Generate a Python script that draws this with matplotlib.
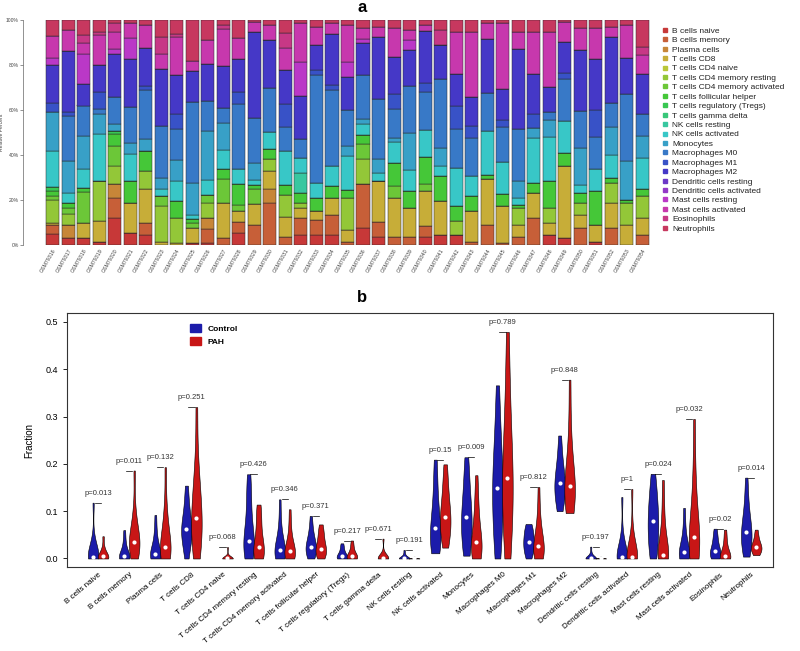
import colorsys
import numpy as np
import matplotlib
matplotlib.use("Agg")
import matplotlib.pyplot as plt
from matplotlib.patches import Patch
from matplotlib.lines import Line2D

plt.rcParams['font.family'] = ['Liberation Sans', 'DejaVu Sans']

cell_types = ["B cells naive", "B cells memory", "Plasma cells", "T cells CD8",
              "T cells CD4 naive", "T cells CD4 memory resting",
              "T cells CD4 memory activated", "T cells follicular helper",
              "T cells regulatory (Tregs)", "T cells gamma delta", "NK cells resting",
              "NK cells activated", "Monocytes", "Macrophages M0", "Macrophages M1",
              "Macrophages M2", "Dendritic cells resting", "Dendritic cells activated",
              "Mast cells resting", "Mast cells activated", "Eosinophils", "Neutrophils"]

samples = ["GSM79316", "GSM79317", "GSM79318", "GSM79319", "GSM79320", "GSM79321",
           "GSM79322", "GSM79323", "GSM79324", "GSM79325", "GSM79326", "GSM79327",
           "GSM79328", "GSM79329", "GSM79330", "GSM79331", "GSM79332", "GSM79333",
           "GSM79334", "GSM79335", "GSM79336", "GSM79337", "GSM79338", "GSM79339",
           "GSM79340", "GSM79341", "GSM79342", "GSM79343", "GSM79344", "GSM79345",
           "GSM79346", "GSM79347", "GSM79348", "GSM79349", "GSM79350", "GSM79351",
           "GSM79352", "GSM79353", "GSM79354"]

# panel a: estimated percent of each cell type per sample
b_naive = [5, 3, 3, 1.5, 12, 5.2, 4.5, 0, 0, 1, 1, 0, 5.2, 0, 0, 0, 4.5, 4.5, 4.5, 0,
           7.5, 3.7, 0, 0, 3.7, 4.5, 4.5, 0, 0, 0, 0, 0, 4.5, 3, 0, 1.5, 0, 0, 0]
b_memory = [4, 0, 0, 0, 9, 0, 5, 0, 0, 0, 6, 3, 5.2, 9, 18.7, 3.7, 7.5, 6.7, 9, 1.5,
            19.4, 6.7, 3.7, 3.7, 4.5, 0, 0, 1.5, 9, 1, 3.7, 12, 0, 0, 7.5, 0, 7.5, 0, 4.5]
plasma = [0, 6, 0, 0, 6, 0, 0, 0, 0, 0, 5, 0, 0, 0, 6, 0, 0, 0, 0, 0,
          0, 0, 0, 0, 0, 0, 0, 0, 0, 0, 0, 0, 0, 0, 0, 0, 0, 0, 0]
cd8 = [1, 0, 6.7, 9, 0, 13.4, 15, 1.5, 1, 6.7, 0, 15.7, 4.5, 9, 8.2, 9, 4.5, 3.7, 7.5, 5.2,
       0, 18, 17, 12.7, 15.7, 15, 0, 13.4, 20, 16.4, 5.2, 11, 5.2, 32, 6, 7.5, 11, 9, 7.5]
cd4_naive = [0, 0, 0, 0, 0, 0, 0, 0, 0, 0, 0, 0, 0, 0, 0, 0, 0, 0, 0, 0,
             0, 0, 0, 0, 0, 0, 0, 0, 0, 0, 0, 0, 0, 0, 0, 0, 0, 0, 0]
cd4_mem_rest = [10, 4.5, 0, 18, 8, 0, 8, 15.7, 11, 0, 6.7, 0, 0, 0, 5.2, 9.7, 2, 0, 0, 14,
                11, 0, 0, 0, 0, 0, 6, 0, 0, 0, 7.5, 0, 6.7, 0, 5.2, 0, 9, 9.7, 9.7]
cd4_mem_act = [2, 3, 14, 0, 9, 0, 0, 4.5, 0, 2, 3.7, 10.5, 3, 6.7, 0, 0, 0, 0, 0, 0,
               6.7, 0, 5.2, 0, 3, 0, 0, 0, 0, 0, 0, 0, 0, 0, 0, 0, 0, 0, 0]
tfh = [2, 2, 1.7, 0, 5, 9.7, 9, 0, 7.5, 1.7, 0, 4.5, 9, 2, 4.5, 4.5, 4.5, 6, 5.2, 3.7,
       3.7, 0, 10.5, 7.5, 12, 11, 6.7, 6.7, 2, 5.2, 1.5, 4.5, 12, 6, 4.5, 15, 2, 1.5, 3]
tregs = [2, 0, 0, 0, 1.5, 0, 0, 0, 0, 0, 0, 0, 0, 0, 0, 0, 0, 0, 0, 0,
         0, 0, 0, 0, 0, 0, 0, 0, 0, 0, 0, 0, 0, 0, 0, 0, 0, 0, 0]
gamma_delta = [0, 0, 0, 0, 0, 0, 0, 0, 0, 0, 0, 0, 0, 0, 0, 0, 0, 0, 0, 0,
               0, 0, 0, 0, 0, 0, 0, 0, 0, 0, 0, 0, 0, 0, 0, 0, 0, 0, 0]
nk_resting = [0, 0, 0, 0, 0, 0, 0, 0, 0, 0, 0, 0, 0, 0, 0, 0, 9, 0, 0, 0,
              0, 0, 0, 0, 0, 0, 0, 0, 0, 0, 0, 0, 0, 0, 0, 0, 0, 0, 0]
nk_activated = [16, 4.5, 8.2, 21, 0, 12, 0, 3, 9, 2, 6.7, 8.2, 6.7, 2, 7.5, 15, 6.7, 6.7, 9, 15,
                5.2, 3.7, 9, 9.7, 12, 4.5, 17, 9, 19.4, 14, 3, 20, 19.4, 14, 3.7, 9.7, 10.5, 0, 14]
monocytes = [17, 14, 15, 9, 3, 5, 5, 5, 9, 14, 21.6, 12, 0, 7.5, 0, 0, 0, 0, 0, 4.5,
             2, 6, 2, 16.4, 0, 8.2, 0, 0, 0, 0, 7.5, 4.5, 7.5, 0, 16.4, 0, 12, 17, 9.7]
m0 = [0, 20, 13.4, 2, 12, 15.7, 21.6, 23, 14, 36, 13.4, 6.7, 29, 20, 19.4, 10.5, 8.2, 48, 33.6, 15.7,
      19.4, 27, 12.7, 21, 17, 30.6, 17, 17, 17, 15.7, 23, 0, 3.7, 18.7, 16.4, 14, 11, 30, 9.7]
m1 = [4, 2, 0, 7.5, 0, 0, 2, 0, 6.7, 0, 0, 0, 5.2, 0, 0, 10.5, 0, 2, 2, 0,
      0, 0, 6.7, 0, 3.7, 0, 10.5, 5.2, 0, 3, 0, 6, 0, 3, 0, 12, 0, 0, 0]
m2 = [17, 27, 9.7, 12, 19, 21.6, 16.4, 25, 17, 14, 16.4, 18.7, 15, 38, 21.6, 15, 19.4, 11, 23, 15,
      14, 27.6, 16.4, 15.7, 23, 15, 14, 12.7, 24, 14, 35.8, 18, 11, 13.4, 27, 23, 29, 15.7, 18]
dc_resting = [0, 0, 0, 0, 0, 0, 0, 0, 0, 0, 0, 0, 0, 0, 0, 0, 0, 0, 0, 0,
              0, 0, 0, 0, 0, 0, 0, 0, 0, 0, 0, 0, 0, 0, 0, 0, 0, 0, 0]
dc_activated = [0, 0, 0, 0, 0, 0, 0, 0, 0, 0, 0, 0, 0, 0, 0, 0, 0, 0, 0, 0,
                0, 0, 0, 0, 0, 0, 0, 0, 0, 0, 0, 0, 0, 0, 0, 0, 0, 0, 0]
mast_resting = [3, 0, 13.4, 0, 2, 9, 0, 0, 0, 0, 0, 0, 0, 0, 0, 0, 15, 0, 0, 6.7,
                2, 0, 0, 4.5, 0, 0, 0, 0, 0, 0, 0, 0, 0, 0, 0, 0, 0, 0, 0]
mast_activated = [10, 9, 4.5, 13.4, 7.5, 6.7, 10.5, 6.7, 17, 4.5, 10.5, 16.4, 9, 4.5, 6.7, 9.7, 17, 8.2, 4.5, 16.4,
                  4.5, 4.5, 12.7, 4.5, 3, 0, 18.7, 29, 6.7, 29, 7.5, 18.7, 24.6, 9, 9.7, 13.4, 4.5, 15, 8.2]
eosinophils = [0, 0, 3.7, 1.5, 4, 0, 0, 7.5, 1.5, 0, 0, 2, 0, 0, 0, 6.7, 0, 0, 0, 0,
               0, 0, 0, 0, 0, 6.7, 0, 0, 0, 0, 0, 0, 0, 0, 0, 0, 0, 0, 3.7]
neutrophils = [7, 4.5, 6.7, 5.2, 1.5, 1.5, 2, 7.5, 6, 18, 9, 2, 8.2, 1, 2, 6, 1.5, 3, 1.5, 2,
               3.7, 3, 3.7, 4.5, 2, 4.5, 5.2, 5.2, 1.5, 1.5, 5.2, 5.2, 5.2, 1, 3.7, 3.7, 3, 2, 12]

bar_series = [b_naive, b_memory, plasma, cd8, cd4_naive, cd4_mem_rest, cd4_mem_act, tfh,
              tregs, gamma_delta, nk_resting, nk_activated, monocytes, m0, m1, m2,
              dc_resting, dc_activated, mast_resting, mast_activated, eosinophils, neutrophils]

# panel b: estimated fraction samples per cell type (Control / PAH)
control_vals = [
    [0, 0, 0, 0, 0, 0.004, 0.008, 0.015, 0.025, 0.04, 0.118],
    [0, 0, 0, 0, 0, 0.005, 0.01, 0.015, 0.025, 0.04, 0.06],
    [0, 0, 0, 0.005, 0.008, 0.01, 0.015, 0.025, 0.04, 0.06, 0.092],
    [0, 0.02, 0.04, 0.05, 0.055, 0.062, 0.07, 0.08, 0.1, 0.125, 0.154],
    [0, 0, 0, 0, 0, 0, 0, 0, 0, 0, 0],
    [0, 0.01, 0.02, 0.03, 0.033, 0.036, 0.06, 0.09, 0.12, 0.15, 0.178],
    [0, 0, 0.005, 0.01, 0.015, 0.017, 0.025, 0.035, 0.05, 0.08, 0.125],
    [0, 0.005, 0.012, 0.018, 0.022, 0.025, 0.03, 0.04, 0.05, 0.065, 0.09],
    [0, 0, 0, 0, 0.004, 0.006, 0.008, 0.012, 0.018, 0.025, 0.032],
    [0, 0, 0, 0, 0, 0, 0, 0, 0, 0, 0],
    [0, 0, 0, 0, 0, 0, 0, 0.002, 0.005, 0.01, 0.018],
    [0.011, 0.02, 0.03, 0.04, 0.05, 0.064, 0.08, 0.1, 0.13, 0.17, 0.209],
    [0.006, 0.02, 0.04, 0.06, 0.075, 0.087, 0.1, 0.12, 0.15, 0.18, 0.214],
    [0, 0.03, 0.07, 0.1, 0.13, 0.15, 0.17, 0.2, 0.24, 0.29, 0.366],
    [0, 0.008, 0.016, 0.024, 0.03, 0.035, 0.042, 0.05, 0.058, 0.066, 0.073],
    [0.1, 0.115, 0.13, 0.14, 0.15, 0.16, 0.17, 0.18, 0.2, 0.225, 0.26],
    [0, 0, 0, 0, 0, 0, 0, 0.002, 0.005, 0.012, 0.025],
    [0, 0, 0, 0, 0, 0.003, 0.006, 0.012, 0.025, 0.05, 0.13],
    [0, 0.01, 0.03, 0.05, 0.065, 0.079, 0.09, 0.11, 0.13, 0.15, 0.179],
    [0, 0, 0.002, 0.006, 0.01, 0.013, 0.02, 0.03, 0.045, 0.07, 0.107],
    [0, 0, 0.005, 0.01, 0.013, 0.016, 0.02, 0.03, 0.04, 0.05, 0.063],
    [0.004, 0.015, 0.03, 0.04, 0.05, 0.055, 0.065, 0.08, 0.1, 0.13, 0.171],
]
pah_vals = [
    [0, 0, 0, 0, 0, 0.005, 0.006, 0.01, 0.015, 0.025, 0.047],
    [0, 0.01, 0.02, 0.028, 0.032, 0.034, 0.04, 0.05, 0.07, 0.1, 0.186],
    [0, 0.005, 0.01, 0.015, 0.02, 0.025, 0.035, 0.05, 0.08, 0.11, 0.193],
    [0, 0.02, 0.04, 0.06, 0.075, 0.085, 0.1, 0.13, 0.16, 0.2, 0.32],
    [0, 0, 0, 0, 0, 0, 0, 0, 0, 0.005, 0.024],
    [0, 0, 0.01, 0.015, 0.02, 0.024, 0.04, 0.06, 0.08, 0.1, 0.114],
    [0, 0, 0.005, 0.01, 0.013, 0.015, 0.02, 0.03, 0.045, 0.07, 0.104],
    [0, 0.005, 0.01, 0.015, 0.02, 0.021, 0.03, 0.04, 0.05, 0.06, 0.072],
    [0, 0, 0, 0, 0.004, 0.006, 0.008, 0.012, 0.02, 0.028, 0.038],
    [0, 0, 0, 0, 0, 0, 0, 0.002, 0.005, 0.012, 0.042],
    [0, 0, 0, 0, 0, 0, 0, 0, 0, 0.001, 0.004],
    [0.023, 0.04, 0.055, 0.07, 0.08, 0.087, 0.1, 0.12, 0.14, 0.17, 0.199],
    [0, 0.005, 0.01, 0.02, 0.028, 0.035, 0.05, 0.07, 0.1, 0.13, 0.176],
    [0, 0.04, 0.08, 0.12, 0.15, 0.17, 0.2, 0.24, 0.3, 0.37, 0.479],
    [0, 0.005, 0.01, 0.015, 0.02, 0.027, 0.035, 0.05, 0.07, 0.1, 0.151],
    [0.096, 0.11, 0.125, 0.135, 0.145, 0.154, 0.165, 0.185, 0.22, 0.28, 0.378],
    [0, 0, 0, 0, 0, 0, 0, 0, 0, 0.001, 0.004],
    [0, 0, 0, 0, 0, 0.004, 0.008, 0.015, 0.03, 0.06, 0.147],
    [0, 0, 0, 0.002, 0.005, 0.008, 0.02, 0.04, 0.07, 0.11, 0.166],
    [0, 0.005, 0.015, 0.025, 0.035, 0.045, 0.06, 0.09, 0.13, 0.19, 0.295],
    [0, 0, 0, 0, 0.003, 0.005, 0.01, 0.02, 0.03, 0.045, 0.061],
    [0.007, 0.012, 0.016, 0.02, 0.022, 0.024, 0.028, 0.033, 0.04, 0.05, 0.061],
]
p_values = ["0.013", "0.011", "0.132", "0.251", "0.068", "0.426", "0.346", "0.371",
            "0.217", "0.671", "0.191", "0.15", "0.009", "0.789", "0.812", "0.848",
            "0.197", "1", "0.024", "0.032", "0.02", "0.014"]

fig = plt.figure(figsize=(8, 6.51), dpi=100)

# ---- panel a: stacked bars ----
ax1 = fig.add_axes([45/800, 1-245/651, 605/800, 225/651])
for s in ['top', 'right', 'bottom']:
    ax1.spines[s].set_visible(False)
ax1.spines['left'].set_position(('outward', 16))
ax1.spines['left'].set_linewidth(0.5)
ax1.spines['left'].set_color('#666666')

colors = [colorsys.hsv_to_rgb(i/22, 0.72, 0.78) for i in range(22)]
x = np.arange(len(samples))
totals = np.sum(np.array(bar_series, dtype=float), axis=0)
bottom = np.zeros(len(samples))
for vals, col in zip(bar_series, colors):
    pct = np.array(vals, dtype=float) / totals * 100
    ax1.bar(x, pct, 0.84, bottom=bottom, color=col, edgecolor='#2a2a2a', linewidth=0.35)
    bottom += pct
ax1.set_xlim(-0.5, len(samples) - 0.5)
ax1.set_ylim(0, 100)
ax1.set_yticks([0, 20, 40, 60, 80, 100])
ax1.set_yticklabels(["0%", "20%", "40%", "60%", "80%", "100%"])
ax1.set_ylabel("Relative Percent", fontsize=3.6, color='#444444', labelpad=1)
ax1.set_xticks(x)
ax1.set_xticklabels(samples, rotation=60, ha='right', va='top', rotation_mode='anchor')
ax1.tick_params(axis='x', length=0, pad=2, labelsize=3.8, labelcolor='#444444')
ax1.tick_params(axis='y', length=2, width=0.5, pad=1, color='#666666',
                labelsize=3.6, labelcolor='#444444')

handles = [Line2D([], [], marker='s', ls='', color=c, markersize=2.6) for c in colors]
fig.legend(handles, cell_types, loc='upper left', bbox_to_anchor=(662/800, 1-27/651),
           frameon=False, fontsize=6.0, handlelength=0.8, handletextpad=0.45,
           labelspacing=0.19, borderaxespad=0, borderpad=0, labelcolor='#222222')

fig.text(362/800, 1-8/651, "a", fontsize=12, fontweight='bold', ha='center', va='center')

# ---- panel b: violins ----
ax2 = fig.add_axes([67/800, 1-567/651, 706/800, 254/651])
blue = '#1c1caa'
red = '#c81616'
pos = np.arange(1, len(cell_types) + 1)
for i in range(len(cell_types)):
    for data, off, col in ((control_vals[i], -0.16, blue), (pah_vals[i], 0.16, red)):
        if max(data) > min(data):
            vp = ax2.violinplot([data], positions=[pos[i] + off], widths=0.34,
                                showextrema=False)
            body = vp['bodies'][0]
            body.set_facecolor(col)
            body.set_edgecolor('black')
            body.set_linewidth(0.4)
            body.set_alpha(1)
            ax2.scatter([pos[i] + off], [np.median(data)], s=9, color='white',
                        zorder=3, linewidths=0)
    top = max(max(control_vals[i]), max(pah_vals[i]))
    ax2.plot([pos[i] - 0.1, pos[i] + 0.1], [top, top], color='black', lw=0.5)
    ax2.text(pos[i], top + 0.02, "p=" + p_values[i], ha='center', va='center',
             fontsize=5.5, color='#333333')

ax2.set_xlim(0, 22.7)
ax2.set_ylim(-0.018, 0.519)
ax2.set_yticks([0.0, 0.1, 0.2, 0.3, 0.4, 0.5])
ax2.set_yticklabels(["0.0", "0.1", "0.2", "0.3", "0.4", "0.5"], fontsize=6.5)
ax2.set_ylabel("Fraction", fontsize=7, labelpad=8)
ax2.set_xticks(pos)
ax2.set_xticklabels(cell_types, rotation=40, ha='right', va='top',
                    rotation_mode='anchor', fontsize=5.8)
ax2.tick_params(axis='x', length=0, pad=3)
ax2.tick_params(axis='y', length=3, width=0.6)
for s in ax2.spines.values():
    s.set_linewidth(0.8)
    s.set_color('#333333')

ax2.legend([Patch(color=blue), Patch(color=red)], ["Control", "PAH"],
           loc='upper left', bbox_to_anchor=(0.163, 0.985), frameon=False,
           handlelength=1.4, handleheight=1.1, labelspacing=0.5,
           prop={'size': 6, 'weight': 'bold'})

fig.text(362/800, 1-298/651, "b", fontsize=12, fontweight='bold', ha='center', va='center')

fig.savefig("out.png", dpi=100)
